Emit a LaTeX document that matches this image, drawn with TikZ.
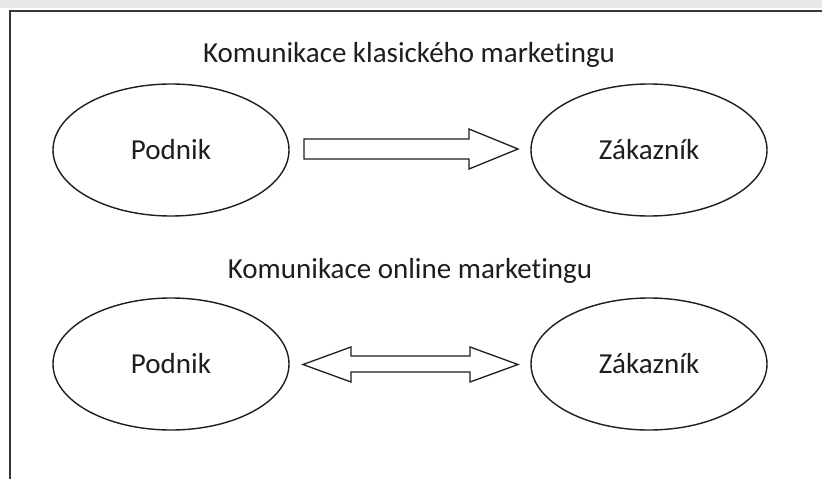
\documentclass[tikz,border=0pt]{standalone}
\usepackage{fontspec}
\setmainfont[Ligatures={NoCommon}]{Carlito}
\usetikzlibrary{shapes.geometric}
\definecolor{frameline}{RGB}{55,55,55}
\definecolor{bandgray}{RGB}{232,232,232}
\definecolor{inkgray}{RGB}{30,30,30}
\tikzset{
  party/.style={ellipse, draw=inkgray, line width=1.4pt, minimum width=236pt,
    minimum height=132pt, inner sep=0pt, font=\fontsize{29}{33}\selectfont, text=inkgray},
  heading/.style={font=\fontsize{29}{33}\selectfont, text=inkgray, inner sep=0pt},
  blockarrow/.style={draw=inkgray, line width=1.3pt, fill=white, line join=miter}
}
\begin{document}
\begin{tikzpicture}[x=1pt, y=-1pt]
  \useasboundingbox (0,0) rectangle (822,479);
  \fill[white] (0,0) rectangle (822,479);
  % page edge and frame
  \fill[bandgray] (0,0) rectangle (822,8);
  \draw[frameline, line width=1.6pt] (10,479) -- (10,11) -- (822,11);

  % classic marketing
  \node[heading] (t1) at (409,55) {Komunikace klasického marketingu};
  \node[party] (p1) at (171,150) {Podnik};
  \node[party] (z1) at (649,150) {Zákazník};
  \draw[blockarrow]
    (304,139) -- (469,139) -- (469,129) -- (518,149) -- (469,169)
    -- (469,159) -- (304,159) -- cycle;

  % online marketing
  \node[heading] (t2) at (410,271) {Komunikace online marketingu};
  \node[party] (p2) at (171,364) {Podnik};
  \node[party] (z2) at (649,364) {Zákazník};
  \draw[blockarrow]
    (303,364.5) -- (351,347) -- (351,356) -- (470,356) -- (470,347)
    -- (518,364.5) -- (470,382) -- (470,372) -- (351,372) -- (351,382) -- cycle;
\end{tikzpicture}
\end{document}
